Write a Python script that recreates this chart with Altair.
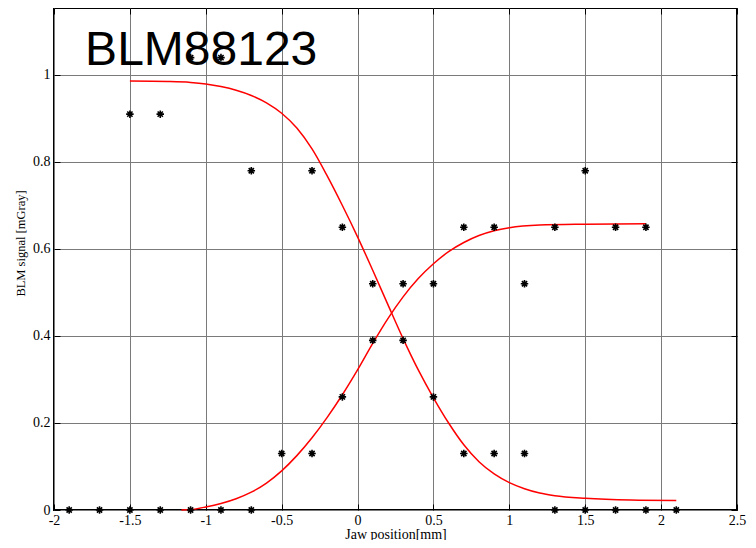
import altair as alt
import pandas as pd

# ---- data ----
# measured points (both series, drawn as black asterisks)
dec_pts_x = [-1.5, -1.3, -1.1, -0.9, -0.7, -0.3, -0.1, 0.1, 0.3, 0.5, 0.7, 0.9, 1.1, 1.3, 1.5, 1.7, 1.9, 2.1]
dec_pts_y = [0.91, 0.91, 1.04, 1.04, 0.78, 0.78, 0.65, 0.52, 0.39, 0.26, 0.13, 0.13, 0.13, 0.0, 0.0, 0.0, 0.0, 0.0]
inc_pts_x = [-1.9, -1.7, -1.5, -1.3, -1.1, -0.9, -0.7, -0.5, -0.3, -0.1, 0.1, 0.3, 0.5, 0.7, 0.9, 1.1, 1.3, 1.5, 1.7, 1.9]
inc_pts_y = [0.0, 0.0, 0.0, 0.0, 0.0, 0.0, 0.0, 0.13, 0.13, 0.26, 0.39, 0.52, 0.52, 0.65, 0.65, 0.52, 0.65, 0.78, 0.65, 0.65]

# fitted curves (red)
dec_fit_x = [-1.5, -1.25, -1.1, -1.0, -0.9, -0.8, -0.7, -0.6, -0.5, -0.4, -0.3, -0.2, -0.1, 0.0, 0.1, 0.2, 0.3,
             0.4, 0.5, 0.6, 0.7, 0.8, 0.9, 1.0, 1.1, 1.2, 1.3, 1.5, 1.8, 2.1]
dec_fit_y = [0.986, 0.985, 0.983, 0.9795, 0.9735, 0.965, 0.953, 0.936, 0.912, 0.878, 0.830, 0.768, 0.700, 0.628,
             0.551, 0.472, 0.394, 0.322, 0.258, 0.200, 0.150, 0.111, 0.083, 0.063, 0.049, 0.039, 0.033, 0.027,
             0.023, 0.022]
inc_fit_x = [-1.16, -1.1, -1.0, -0.9, -0.8, -0.7, -0.6, -0.5, -0.4, -0.3, -0.2, -0.1, 0.0, 0.1, 0.2, 0.3,
             0.4, 0.5, 0.6, 0.7, 0.8, 0.9, 1.0, 1.2, 1.5, 1.9]
inc_fit_y = [0.0, 0.001, 0.007, 0.015, 0.026, 0.041, 0.062, 0.090, 0.125, 0.166, 0.213, 0.265, 0.322, 0.383,
             0.440, 0.490, 0.532, 0.566, 0.594, 0.615, 0.631, 0.642, 0.649, 0.655, 0.657, 0.658]

x_ticks = [-2, -1.5, -1, -0.5, 0, 0.5, 1, 1.5, 2, 2.5]
y_ticks = [0, 0.2, 0.4, 0.6, 0.8, 1]

title_label = ["BLM88123"]
title_x = [-1.795]
title_y = [1.023]

# ---- tables ----
pts = pd.DataFrame({
    "x": dec_pts_x + inc_pts_x,
    "y": dec_pts_y + inc_pts_y,
    "series": ["dec"] * len(dec_pts_x) + ["inc"] * len(inc_pts_x),
})
fit = pd.DataFrame({
    "x": dec_fit_x + inc_fit_x,
    "y": dec_fit_y + inc_fit_y,
    "series": ["dec"] * len(dec_fit_x) + ["inc"] * len(inc_fit_x),
})
ann = pd.DataFrame({"x": title_x, "y": title_y, "label": title_label})

serif = "Liberation Serif"
xscale = alt.Scale(domain=[-2, 2.5], nice=False, zero=False)
yscale = alt.Scale(domain=[0, 1.154], nice=False, zero=False)

main_x = alt.Axis(
    orient="bottom", values=x_ticks, grid=True, gridColor="#7a7a7a", gridWidth=1,
    ticks=False, domain=False, labelExpr="'' + datum.value", labelFont=serif,
    labelFontSize=14, labelColor="black", labelPadding=3, labelFlush=False,
    labelOverlap=False, title="Jaw position[mm]", titleFont=serif, titleFontSize=14,
    titleFontWeight="normal", titleColor="black", titleBaseline="alphabetic", titleY=28,
)
main_y = alt.Axis(
    orient="left", values=y_ticks, grid=True, gridColor="#7a7a7a", gridWidth=1,
    ticks=False, domain=False, labelExpr="'' + datum.value", labelFont=serif,
    labelFontSize=14, labelColor="black", labelPadding=4, labelFlush=False,
    labelOverlap=False, labelBaseline="middle", title="BLM signal [mGray]", titleFont=serif,
    titleFontSize=12.5, titleFontWeight="normal", titleColor="black",
    titleBaseline="alphabetic", titleX=-30, titleY=235, titleAngle=270,
)


def tick_axis(orient, vals):
    return alt.Axis(orient=orient, values=vals, ticks=True, tickSize=6, tickColor="black",
                    tickWidth=1, labels=False, domain=False, grid=False, offset=-6)


lines = alt.Chart(fit).mark_line(color="#ff0000", strokeWidth=1.5, interpolate="monotone").encode(
    x=alt.X("x:Q", scale=xscale, axis=main_x),
    y=alt.Y("y:Q", scale=yscale, axis=main_y),
    detail="series:N",
)

star = "M-1,0L1,0M0,-1L0,1M-0.7,-0.7L0.7,0.7M-0.7,0.7L0.7,-0.7"
points = alt.Chart(pts).mark_point(shape=star, filled=False, stroke="black", strokeWidth=1.6,
                                   size=56, opacity=1).encode(
    x=alt.X("x:Q", scale=xscale, axis=tick_axis("bottom", x_ticks), title=None),
    y=alt.Y("y:Q", scale=yscale, axis=tick_axis("left", y_ticks), title=None),
)

label = alt.Chart(ann).mark_text(align="left", baseline="alphabetic", font="Liberation Sans",
                                 fontSize=48, color="black").encode(
    x=alt.X("x:Q", scale=xscale, axis=tick_axis("top", x_ticks), title=None),
    y=alt.Y("y:Q", scale=yscale, axis=tick_axis("right", y_ticks), title=None),
    text="label:N",
)

chart = alt.layer(lines, points, label).resolve_axis(
    x="independent", y="independent"
).properties(
    width=683, height=502,
    autosize=alt.AutoSizeParams(type="none"),
    padding={"left": 46, "top": 0, "right": 11, "bottom": 30},
    background="white",
).configure_view(stroke="black", strokeWidth=2)

chart.save("out.html", embed_options={"renderer": "svg", "actions": False})
